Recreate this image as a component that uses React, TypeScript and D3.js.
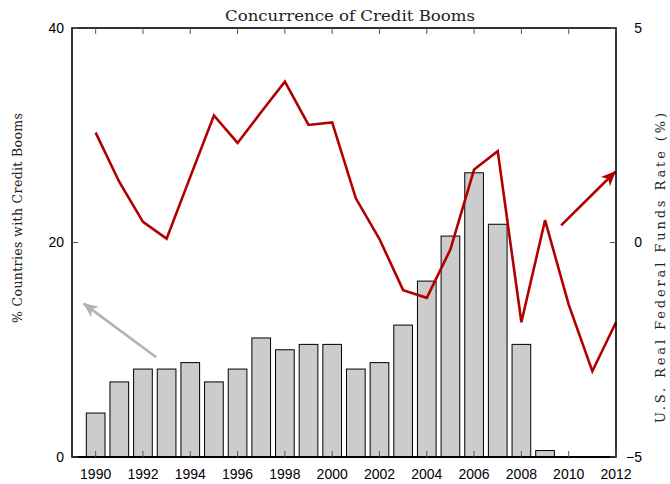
import React from 'react';
import * as d3 from 'd3';

// bar series: % of countries in a credit boom (left axis)
const barYears = [1990, 1991, 1992, 1993, 1994, 1995, 1996, 1997, 1998, 1999, 2000, 2001, 2002, 2003, 2004, 2005, 2006, 2007, 2008, 2009, 2010, 2011];
const boomShare = [4.1, 7.0, 8.2, 8.2, 8.8, 7.0, 8.2, 11.1, 10.0, 10.5, 10.5, 8.2, 8.8, 12.3, 16.4, 20.6, 26.5, 21.7, 10.5, 0.6, 0, 0];

// line series: U.S. real federal funds rate (right axis)
const rateYears = [1990, 1991, 1992, 1993, 1994, 1995, 1996, 1997, 1998, 1999, 2000, 2001, 2002, 2003, 2004, 2005, 2006, 2007, 2008, 2009, 2010, 2011, 2012];
const realRate = [2.56, 1.41, 0.48, 0.09, 1.53, 2.96, 2.32, 3.04, 3.75, 2.74, 2.80, 1.03, 0.08, -1.11, -1.29, -0.16, 1.70, 2.13, -1.86, 0.52, -1.45, -3.0, -1.86];

const xTicks = [1990, 1992, 1994, 1996, 1998, 2000, 2002, 2004, 2006, 2008, 2010, 2012];
const leftTicks = [0, 20, 40];
const rightTicks = [-5, 0, 5];

// annotation arrows in data units: [x0, y0, x1, y1]
const grayArrow = [1992.56, 9.3, 1989.5, 14.3]; // left axis units
const redArrow = [2009.68, 0.4, 2011.97, 1.65]; // right axis units

const W = 670;
const H = 484;
const m = { left: 72, right: 616, top: 28, bottom: 457 };

const App: React.FC = () => {
  const x = d3.scaleLinear().domain([1989, 2012]).range([m.left, m.right]);
  const yL = d3.scaleLinear().domain([0, 40]).range([m.bottom, m.top]);
  const yR = d3.scaleLinear().domain([-5, 5]).range([m.bottom, m.top]);
  const barW = (x(1) - x(0)) * 0.79;

  const line = d3.line<number>()
    .x((d, i) => x(rateYears[i]))
    .y(d => yR(d));

  const red = '#b20000';
  const grey = '#b3b3b3';
  const tickFont = { fontFamily: 'Liberation Sans, Arial, sans-serif', fontSize: 14, fill: '#000' };
  const serif = { fontFamily: 'DejaVu Serif, serif', fill: '#222' };

  return (
    <svg width={W} height={H} style={{ position: 'absolute', left: 0, top: 0, background: '#fff' }}>
      <defs>
        <marker id="head-grey" viewBox="-16 -8 18 16" refX={0} refY={0} markerWidth={18} markerHeight={16} markerUnits="userSpaceOnUse" orient="auto">
          <path d="M1,0 L-14,-6.5 L-10,0 L-14,6.5 Z" fill={grey} />
        </marker>
        <marker id="head-red" viewBox="-16 -8 18 16" refX={0} refY={0} markerWidth={18} markerHeight={16} markerUnits="userSpaceOnUse" orient="auto">
          <path d="M1,0 L-14,-6.5 L-10,0 L-14,6.5 Z" fill={red} />
        </marker>
      </defs>

      {/* bars */}
      {barYears.map((yr, i) => (
        <rect
          key={yr}
          x={x(yr) - barW / 2}
          y={yL(boomShare[i])}
          width={barW}
          height={m.bottom - yL(boomShare[i])}
          fill="#cccccc"
          stroke="#000"
          strokeWidth={1}
        />
      ))}

      {/* rate line */}
      <path d={line(realRate) || ''} fill="none" stroke={red} strokeWidth={2.6} strokeLinejoin="miter" />

      {/* arrows */}
      <line
        x1={x(grayArrow[0])} y1={yL(grayArrow[1])}
        x2={x(grayArrow[2])} y2={yL(grayArrow[3])}
        stroke={grey} strokeWidth={2.6} markerEnd="url(#head-grey)"
      />
      <line
        x1={x(redArrow[0])} y1={yR(redArrow[1])}
        x2={x(redArrow[2])} y2={yR(redArrow[3])}
        stroke={red} strokeWidth={2.6} markerEnd="url(#head-red)"
      />

      {/* frame */}
      <rect x={m.left} y={m.top} width={m.right - m.left} height={m.bottom - m.top} fill="none" stroke="#000" strokeWidth={1.6} />
      <line x1={m.left} x2={m.right} y1={m.bottom} y2={m.bottom} stroke="#000" strokeWidth={2.2} />

      {/* x ticks, top and bottom, inward */}
      {xTicks.map(t => (
        <g key={t}>
          <line x1={x(t)} x2={x(t)} y1={m.bottom} y2={m.bottom - 6} stroke="#555" strokeWidth={1} />
          <line x1={x(t)} x2={x(t)} y1={m.top} y2={m.top + 6} stroke="#555" strokeWidth={1} />
          <text x={x(t)} y={479} textAnchor="middle" {...tickFont}>{t}</text>
        </g>
      ))}

      {/* left ticks */}
      {leftTicks.map(t => (
        <g key={t}>
          <line x1={m.left} x2={m.left + 6} y1={yL(t)} y2={yL(t)} stroke="#555" strokeWidth={1} />
          <text x={64} y={yL(t)} dy="0.35em" textAnchor="end" {...tickFont}>{t}</text>
        </g>
      ))}

      {/* right ticks */}
      {rightTicks.map(t => (
        <g key={t}>
          <line x1={m.right} x2={m.right - 6} y1={yR(t)} y2={yR(t)} stroke="#555" strokeWidth={1} />
          <text x={642} y={yR(t)} dy="0.35em" textAnchor="end" {...tickFont}>{t < 0 ? `\u2212${Math.abs(t)}` : t}</text>
        </g>
      ))}

      {/* labels */}
      <text x={350} y={21} textAnchor="middle" fontSize={15} textLength={250} lengthAdjust="spacingAndGlyphs" {...serif}>
        Concurrence of Credit Booms
      </text>
      <text
        transform={`translate(22,218) rotate(-90)`}
        textAnchor="middle" fontSize={12.5} textLength={210} lengthAdjust="spacing" {...serif}
      >
        % Countries with Credit Booms
      </text>
      <text
        transform={`translate(665,268) rotate(-90)`}
        textAnchor="middle" fontSize={13} textLength={310} lengthAdjust="spacing" {...serif}
      >
        U.S. Real Federal Funds Rate (%)
      </text>
    </svg>
  );
};

export default App;
